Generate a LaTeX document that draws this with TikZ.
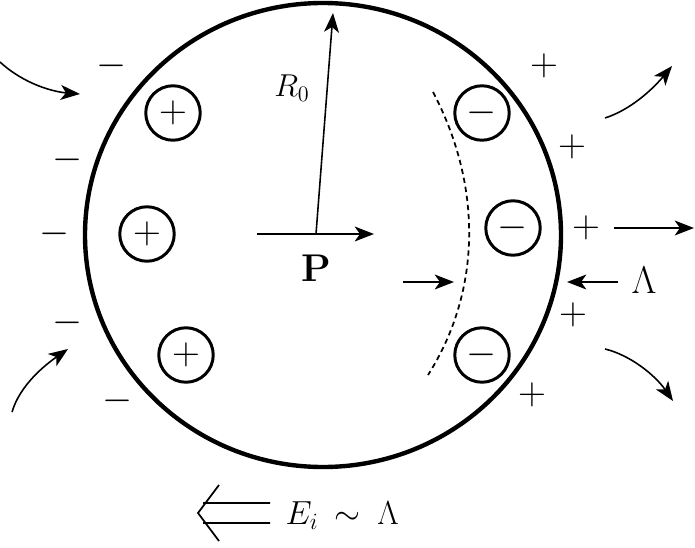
\RequirePackage{fix-cm}
\documentclass[tikz,border=0pt]{standalone}
\usepackage{tikz}
\usetikzlibrary{arrows.meta}

\begin{document}
\begin{tikzpicture}[x=0.02cm, y=-0.02cm,
    ion/.style={draw, circle, line width=1.7pt, minimum size=31pt, inner sep=0pt, font=\fontsize{22}{24}\selectfont},
    sgn/.style={inner sep=0pt, font=\fontsize{22}{24}\selectfont},
    lbl/.style={inner sep=0pt, font=\fontsize{19}{22}\selectfont},
    flow/.style={line width=0.9pt, -{Stealth[length=11pt, width=8.5pt, inset=3pt]}}]
    %%Frame
    \useasboundingbox (0,0) rectangle (695,547);
    %% Drop
    \draw[line width=2.5pt] (323,235) ellipse [x radius=238, y radius=232];
    %% Ions inside
    \node[ion] (ionA) at (173,113) {$+$};
    \node[ion] (ionB) at (147,234) {$+$};
    \node[ion] (ionC) at (186,355) {$+$};
    \node[ion] (ionD) at (482,113) {$-$};
    \node[ion] (ionE) at (513,228) {$-$};
    \node[ion] (ionF) at (482,355) {$-$};
    %% Surface charges
    \node[sgn] (mA) at (112,66) {$-$};
    \node[sgn] (mB) at (68,160) {$-$};
    \node[sgn] (mC) at (55,234) {$-$};
    \node[sgn] (mD) at (68,323) {$-$};
    \node[sgn] (mE) at (118,401) {$-$};
    \node[sgn] (pA) at (544,66) {$+$};
    \node[sgn] (pB) at (572,147) {$+$};
    \node[sgn] (pC) at (586,228) {$+$};
    \node[sgn] (pD) at (573,315) {$+$};
    \node[sgn] (pE) at (532,395) {$+$};
    %% Flow
    \coordinate (inA) at (0,62);    \coordinate (toA) at (80,94);
    \coordinate (inB) at (12,412);  \coordinate (toB) at (68,349);
    \coordinate (outA) at (605,118); \coordinate (toC) at (672,66);
    \coordinate (outB) at (605,349); \coordinate (toD) at (673,401);
    \coordinate (outC) at (614,228); \coordinate (toE) at (694,228);
    \draw[flow] (inA) .. controls (25,85) and (55,92) .. (toA);
    \draw[flow] (inB) .. controls (20,385) and (45,365) .. (toB);
    \draw[flow] (outA) .. controls (630,110) and (652,90) .. (toC);
    \draw[flow] (outB) .. controls (630,355) and (655,375) .. (toD);
    \draw[flow] (outC) -- (toE);
    %% Polarisation and radius
    \coordinate (ctr) at (316,234);
    \coordinate (Ptail) at (257,234); \coordinate (Phead) at (374,234);
    \coordinate (Rtip) at (333,13);
    \draw[flow] (Ptail) -- (Phead);
    \draw[flow] (ctr) -- (Rtip);
    \node[inner sep=0pt, font=\fontsize{18}{20}\selectfont] (Rlab) at (292,88) {$R_0$};
    \node[inner sep=0pt, font=\fontsize{22}{24}\selectfont\bfseries] (Plab) at (316,268) {P};
    %% Layer
    \coordinate (dtop) at (433,92); \coordinate (dbot) at (428,375);
    \draw[line width=1pt, dash pattern=on 3pt off 2.2pt]
    (dtop) .. controls (482,185) and (482,290) .. (dbot);
    \coordinate (lamA) at (403,282); \coordinate (lamB) at (454,282);
    \coordinate (lamC) at (618,282); \coordinate (lamD) at (567,282);
    \draw[flow] (lamA) -- (lamB);
    \draw[flow] (lamC) -- (lamD);
    \node[inner sep=0pt, font=\fontsize{22}{24}\selectfont] (Lam) at (644,280) {$\Lambda$};
    %% Field
    \coordinate (fA) at (203,503); \coordinate (fB) at (270,503);
    \coordinate (fC) at (203,523); \coordinate (fD) at (270,523);
    \coordinate (fTop) at (219,485); \coordinate (fTip) at (198,513); \coordinate (fBot) at (219,541);
    \draw[line width=1pt]
    (fA) -- (fB)
    (fC) -- (fD)
    (fTop) -- (fTip) -- (fBot)
    ;
    \node[lbl, anchor=base] (Ei) at (302,524) {$E_i$};
    \node[lbl, anchor=base] (tld) at (347,524) {$\sim$};
    \node[lbl, anchor=base] (LamB) at (388,524) {$\Lambda$};
\end{tikzpicture}
\end{document}
